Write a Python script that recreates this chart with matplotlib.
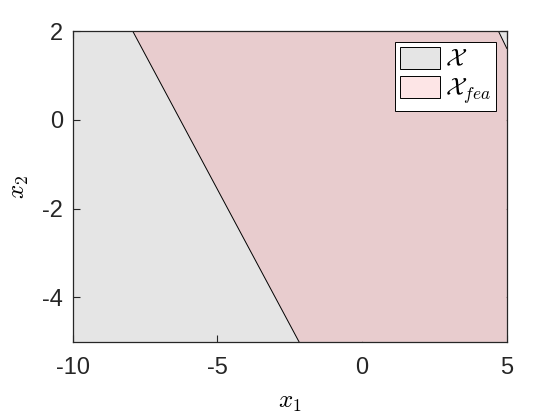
import matplotlib
matplotlib.use("Agg")
import matplotlib.pyplot as plt
from matplotlib.patches import Patch

plt.rcParams['font.family'] = ['Liberation Sans', 'DejaVu Sans']
plt.rcParams['mathtext.fontset'] = 'cm'

# domain X (whole box) and feasible set X_fea (polygon)
x_lim = [-10, 5]
y_lim = [-5, 2]
fea_x = [-7.93, 4.71, 5.0, 5.0, -2.18]
fea_y = [2.0, 2.0, 1.61, -5.0, -5.0]

xticks = [-10, -5, 0, 5]
yticks = [-4, -2, 0, 2]

gray = '#e5e5e5'
pink = '#e8ccce'
pink_leg = '#fde5e6'

fig = plt.figure(figsize=(5.6, 4.2), dpi=100)
ax = fig.add_axes([0.130, 0.186, 0.775, 0.740])

ax.fill([x_lim[0], x_lim[1], x_lim[1], x_lim[0]],
        [y_lim[0], y_lim[0], y_lim[1], y_lim[1]],
        facecolor=gray, edgecolor='none', zorder=1)
ax.fill(fea_x, fea_y, facecolor=pink, edgecolor='none', zorder=2)
# boundary lines of feasible set
ax.plot([fea_x[0], fea_x[4]], [fea_y[0], fea_y[4]], color='black', lw=0.7, zorder=3)
ax.plot([fea_x[1], fea_x[2]], [fea_y[1], fea_y[2]], color='black', lw=0.7, zorder=3)

ax.set_xlim(x_lim)
ax.set_ylim(y_lim)
ax.set_xticks(xticks)
ax.set_xticklabels([str(t) for t in xticks])
ax.set_yticks(yticks)
ax.set_yticklabels([str(t) for t in yticks])
ax.tick_params(direction='in', length=5, width=0.8, labelsize=17,
               colors='#262626', top=True, right=True)
ax.tick_params(axis='x', pad=11)
ax.tick_params(axis='y', pad=7)
for s in ax.spines.values():
    s.set_color('#262626')
    s.set_linewidth(0.9)
    s.set_zorder(5)

ax.set_xlabel(r'$x_1$', fontsize=18, labelpad=8)
ax.set_ylabel(r'$x_2$', fontsize=18, labelpad=8)

handles = [Patch(facecolor=gray, edgecolor='black', lw=0.7),
           Patch(facecolor=pink_leg, edgecolor='black', lw=0.7)]
leg = ax.legend(handles, [r'$\mathcal{X}$', r'$\mathcal{X}_{fea}$'],
                loc='upper right', bbox_to_anchor=(0.975, 0.965),
                fontsize=18, fancybox=False, framealpha=1,
                edgecolor='black', handlelength=1.6, handleheight=0.95,
                handletextpad=0.2, borderpad=0.2, labelspacing=0.2,
                borderaxespad=0)
leg.get_frame().set_linewidth(0.7)

fig.savefig('out.png', dpi=100)
